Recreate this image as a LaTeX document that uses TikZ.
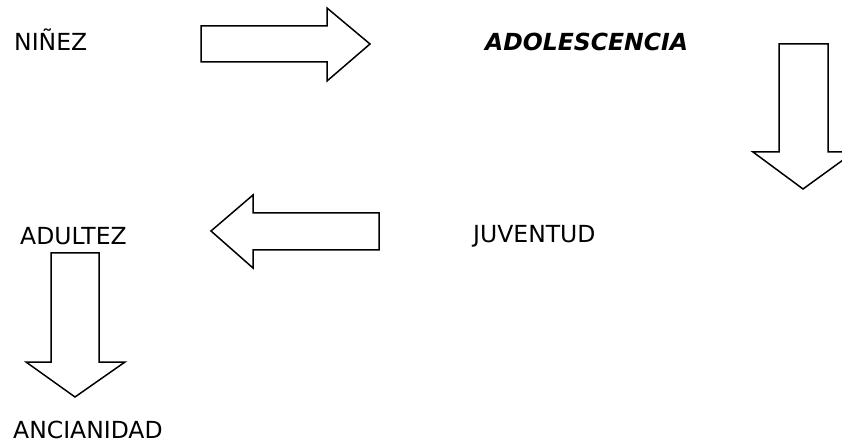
\documentclass[tikz,border=0pt]{standalone}
\usepackage{fontspec}
\setmainfont{DejaVu Sans}
\begin{document}
\begin{tikzpicture}[x=1pt,y=-1pt,
  label/.style={anchor=base west,inner sep=0pt,font=\fontsize{23.5}{28}\selectfont},
  blockarrow/.style={draw=black,line width=1.5pt,fill=white,line join=miter}]
\useasboundingbox (0,0) rectangle (842,443);
\node[label] (ninez) at (14,51) {NIÑEZ};
\node[label,font=\fontsize{23.5}{28}\selectfont\bfseries\itshape] (adol) at (485,51) {ADOLESCENCIA};
\node[label] (juv) at (473,243) {JUVENTUD};
\node[label] (adul) at (20,245) {ADULTEZ};
\node[label] (anc) at (13,438) {ANCIANIDAD};
% right arrow
\draw[blockarrow] (201,26) -- (327,26) -- (327,8) -- (370,44) -- (327,81) -- (327,62) -- (201,62) -- cycle;
% down arrow right
\draw[blockarrow] (779,44) -- (828,44) -- (828,152) -- (854,152) -- (803,189) -- (753,152) -- (779,152) -- cycle;
% left arrow
\draw[blockarrow] (379,213) -- (253,213) -- (253,195) -- (211,231) -- (253,268) -- (253,250) -- (379,250) -- cycle;
% down arrow left
\draw[blockarrow] (51,253) -- (99,253) -- (99,362) -- (125,362) -- (75,397) -- (26,362) -- (51,362) -- cycle;
\end{tikzpicture}
\end{document}
